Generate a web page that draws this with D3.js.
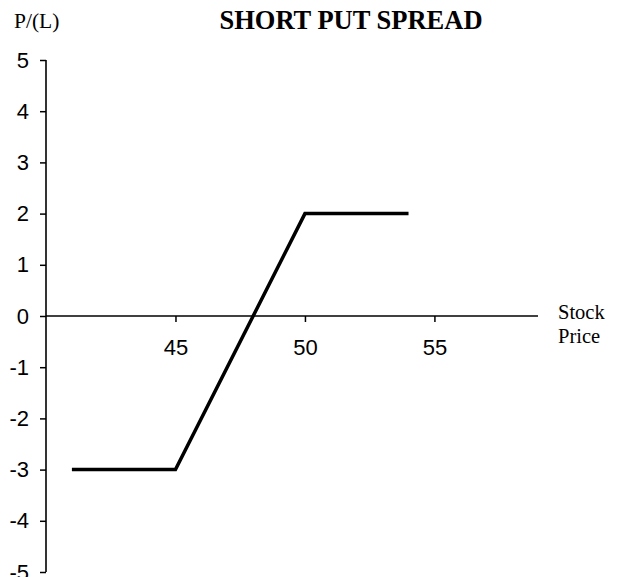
<!DOCTYPE html>
<html><head><meta charset="utf-8">
<script src="https://cdn.jsdelivr.net/npm/d3@7"></script>
<style>body{margin:0;background:#fff}</style>
</head><body>
<svg id="c" width="618" height="577"></svg>
<script>
const stockPrice = [41, 45, 50, 54];
const profitLoss = [-3, -3, 2, 2];
const xTicks = [45, 50, 55];
const yTicks = [5, 4, 3, 2, 1, 0, -1, -2, -3, -4, -5];
const title = "SHORT PUT SPREAD";

const svg = d3.select("#c");
const x = d3.scaleLinear().domain([40, 59]).range([46, 538]);
const y = d3.scaleLinear().domain([-5, 5]).range([572, 60]);
const fmt = d => String(d);

// y axis
const ya = svg.append("g").attr("transform", `translate(${x(40)},0)`)
  .call(d3.axisLeft(y).tickValues(yTicks).tickSize(6).tickPadding(11).tickFormat(fmt));
ya.select(".domain").remove();
ya.append("line").attr("x1",0).attr("x2",0).attr("y1",y(5)).attr("y2",y(-5)).attr("stroke","#000").attr("stroke-width",1.6);
ya.selectAll(".tick line").attr("stroke-width",1.5);
ya.selectAll("text").attr("font-family","Liberation Sans, Arial, sans-serif").attr("font-size",22).attr("fill","#000");

// x axis
const xa = svg.append("g").attr("transform", `translate(0,${y(0)})`)
  .call(d3.axisBottom(x).tickValues(xTicks).tickSize(6).tickPadding(17).tickFormat(fmt));
xa.select(".domain").remove();
xa.append("line").attr("x1",x(40)).attr("x2",x(59)).attr("y1",0).attr("y2",0).attr("stroke","#000").attr("stroke-width",1.6);
xa.selectAll(".tick line").attr("stroke-width",1.5);
xa.selectAll("text").attr("font-family","Liberation Sans, Arial, sans-serif").attr("font-size",22).attr("fill","#000");

// line
const pts = stockPrice.map((d,i)=>[d, profitLoss[i]]);
svg.append("path").datum(pts)
  .attr("d", d3.line().x(d=>x(d[0])).y(d=>y(d[1])))
  .attr("fill","none").attr("stroke","#000").attr("stroke-width",3.5).attr("stroke-linejoin","miter");

// texts
svg.append("text").attr("x",351).attr("y",29).attr("text-anchor","middle")
  .attr("font-family","Liberation Serif, Times New Roman, serif").attr("font-weight","bold").attr("font-size",26.5).text(title);
svg.append("text").attr("x",14).attr("y",28)
  .attr("font-family","Liberation Serif, Times New Roman, serif").attr("font-size",21.5).text("P/(L)");
svg.append("text").attr("x",558).attr("y",319)
  .attr("font-family","Liberation Serif, Times New Roman, serif").attr("font-size",20.5).text("Stock");
svg.append("text").attr("x",558).attr("y",343)
  .attr("font-family","Liberation Serif, Times New Roman, serif").attr("font-size",20.5).text("Price");
</script>
</body></html>
